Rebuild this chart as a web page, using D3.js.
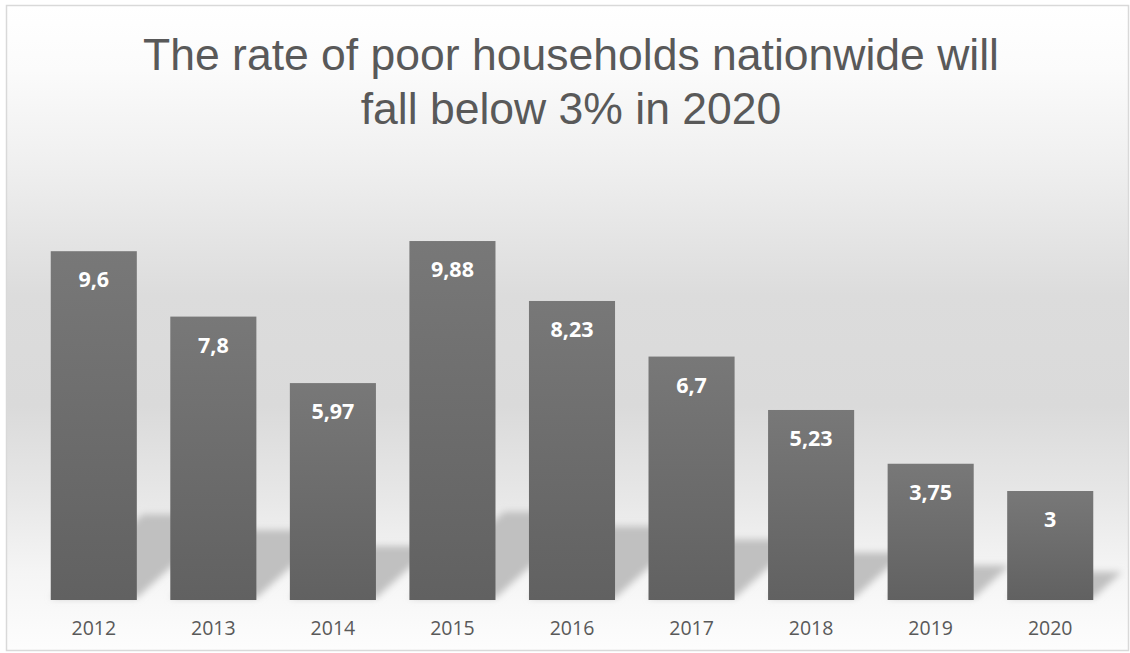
<!DOCTYPE html>
<html><head><meta charset="utf-8">
<script src="https://cdnjs.cloudflare.com/ajax/libs/d3/7.8.5/d3.min.js"></script>
<style>html,body{margin:0;padding:0;background:#fff;}svg{display:block;}</style>
</head><body>
<script>
const categories = ["2012","2013","2014","2015","2016","2017","2018","2019","2020"];
const values = [9.6, 7.8, 5.97, 9.88, 8.23, 6.7, 5.23, 3.75, 3];
const valueLabels = ["9,6","7,8","5,97","9,88","8,23","6,7","5,23","3,75","3"];
const titleLines = ["The rate of poor households nationwide will", "fall below 3% in 2020"];

const W = 1130, H = 653;
const svg = d3.select("body").append("svg").attr("width", W).attr("height", H);
const defs = svg.append("defs");

const bg = defs.append("linearGradient").attr("id","bg").attr("x1",0).attr("y1",0).attr("x2",0).attr("y2",1);
[[0,"#ffffff"],[0.1,"#fbfbfb"],[0.25,"#efefef"],[0.45,"#dcdcdc"],[0.62,"#dadada"],[0.76,"#e7e7e7"],[0.88,"#f5f5f5"],[1,"#fdfdfd"]]
  .forEach(([o,c]) => bg.append("stop").attr("offset",o).attr("stop-color",c));

const bar = defs.append("linearGradient").attr("id","bar").attr("x1",0).attr("y1",0).attr("x2",0).attr("y2",1);
bar.append("stop").attr("offset",0).attr("stop-color","#787878");
bar.append("stop").attr("offset",1).attr("stop-color","#616161");

defs.append("filter").attr("id","blur").attr("x","-20%").attr("y","-20%").attr("width","140%").attr("height","140%")
  .append("feGaussianBlur").attr("stdDeviation",3.5);

svg.append("rect").attr("x",6.5).attr("y",5.5).attr("width",1122).attr("height",645)
  .attr("fill","url(#bg)").attr("stroke","#d9d9d9").attr("stroke-width",1.5);

const x = d3.scaleBand().domain(categories).range([34, 1110]).paddingInner(0.28).paddingOuter(0.14);
const y = d3.scaleLinear().domain([0, 12]).range([600, 164]);

// title
const title = svg.append("text").attr("text-anchor","middle")
  .attr("font-family","'Liberation Sans', Arial, sans-serif").attr("font-size",44.5).attr("fill","#595959");
titleLines.forEach((t,i) => title.append("tspan").attr("x",571).attr("y", i===0 ? 70 : 124).text(t));

// perspective shadows
const data = categories.map((c,i) => ({c, v: values[i], l: valueLabels[i]}));
const shear = 1.1, sh = 0.24;
svg.append("g").attr("filter","url(#blur)").selectAll("path").data(data).join("path")
  .attr("fill","#c0c0c0")
  .attr("d", d => {
    const x0 = x(d.c), x1 = x(d.c) + x.bandwidth();
    const h = (y(0) - y(d.v)) * sh;
    const b = y(0) - 2;
    return `M${x0},${b} L${x1},${b} L${x1 + h*shear},${b - h} L${x0 + h*shear},${b - h} Z`;
  });

// bars
svg.append("g").selectAll("rect").data(data).join("rect")
  .attr("x", d => x(d.c)).attr("width", x.bandwidth())
  .attr("y", d => y(d.v)).attr("height", d => y(0) - y(d.v))
  .attr("fill","url(#bar)");

// value labels
svg.append("g").selectAll("text").data(data).join("text")
  .attr("x", d => x(d.c) + x.bandwidth()/2).attr("y", d => y(d.v) + 36)
  .attr("text-anchor","middle").attr("font-family","'Open Sans', sans-serif")
  .attr("font-weight","bold").attr("font-size",21.5).attr("fill","#ffffff")
  .text(d => d.l);

// x axis
const ax = svg.append("g").attr("transform","translate(0,600)")
  .call(d3.axisBottom(x).tickSize(0).tickPadding(0));
ax.select(".domain").remove();
ax.selectAll("text").attr("font-family","'Open Sans', sans-serif").attr("font-size",19.5)
  .attr("fill","#595959").attr("dy",null).attr("y",35);
</script>
</body></html>
